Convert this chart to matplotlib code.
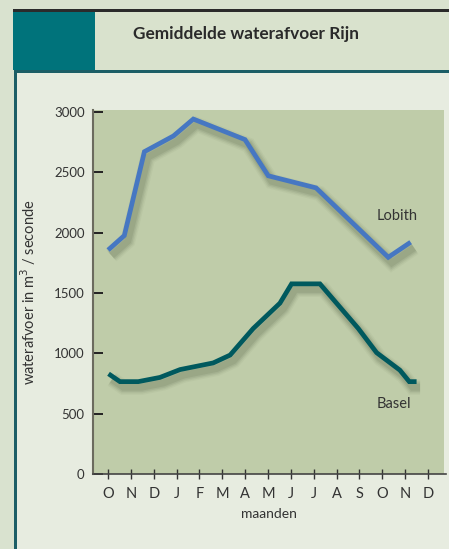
import matplotlib.pyplot as plt
import matplotlib.patheffects as pe
from matplotlib.patches import Rectangle

# month labels along the x axis (October .. December of next year)
months = ["O", "N", "D", "J", "F", "M", "A", "M", "J", "J", "A", "S", "O", "N", "D"]

# Lobith: position in months (0 = October) and discharge in m3/s
lobith_x = [0.0, 0.71, 1.59, 2.86, 3.73, 5.99, 7.01, 9.10, 12.26, 13.24]
lobith_y = [1855, 1975, 2670, 2800, 2940, 2770, 2470, 2370, 1795, 1920]

# Basel
basel_x = [0.02, 0.52, 1.32, 2.27, 3.15, 4.6, 5.34, 6.35, 7.52, 8.03, 9.27,
           10.95, 11.75, 12.77, 13.18, 13.5]
basel_y = [830, 765, 765, 800, 865, 920, 985, 1205, 1415, 1575, 1575,
           1205, 1005, 860, 765, 765]

W, H = 449, 549
plt.rcParams['font.family'] = ['Lato', 'DejaVu Sans']

fig = plt.figure(figsize=(W / 100, H / 100), dpi=100)
fig.patch.set_facecolor('#d9e2cf')


def box(x0, y0, x1, y1, color, z=0):
    # rectangle in pixel coords (origin top-left)
    fig.patches.append(Rectangle((x0 / W, 1 - y1 / H), (x1 - x0) / W, (y1 - y0) / H,
                                 transform=fig.transFigure, facecolor=color,
                                 edgecolor='none', zorder=z))


box(13, 10, W, 70, '#d9e2cd')        # title band
box(13, 11, 95, 70, '#00737b')       # teal block
box(13, 9, W, 12, '#2b2b2b', 2)      # top rule
box(14, 70, W, H, '#e7ece0')         # inner panel
box(14, 70, W, 73, '#1c5e66', 2)     # rule under title
box(14, 70, 16.5, H, '#1c5e66', 2)   # left border of panel

fig.text(133 / W, 1 - 34.5 / H, "Gemiddelde waterafvoer Rijn", fontsize=12.4,
         fontweight='bold', color='#2a2a2a', va='center', ha='left')

ax = fig.add_axes([93 / W, 1 - 474 / H, (444 - 93) / W, (474 - 110) / H])
ax.set_zorder(10)
ax.set_facecolor('#bfcca9')
ax.set_xlim(-0.66, 14.7)
ax.set_ylim(0, 3015)


def shadow_fx():
    fx = []
    for lw, a in [(11, 0.04), (9, 0.06), (7, 0.08), (5, 0.09)]:
        fx.append(pe.SimpleLineShadow(offset=(2.5, -4), shadow_color='#2f3d22',
                                      alpha=a, linewidth=lw))
    fx.append(pe.Normal())
    return fx


ax.plot(lobith_x, lobith_y, color='#4677c2', lw=3.4, solid_joinstyle='miter',
        solid_capstyle='butt', path_effects=shadow_fx(), zorder=3)
ax.plot(basel_x, basel_y, color='#00595e', lw=3.4, solid_joinstyle='miter',
        solid_capstyle='butt', path_effects=shadow_fx(), zorder=3)

ax.text(11.77, 2133, "Lobith", fontsize=10.5, color='#333333', va='center', ha='left')
ax.text(11.77, 583, "Basel", fontsize=10.5, color='#333333', va='center', ha='left')

ax.set_xticks(range(len(months)))
ax.set_xticklabels(months)
ax.set_yticks([0, 500, 1000, 1500, 2000, 2500, 3000])
ax.tick_params(axis='y', direction='in', length=7, width=1.4, color='#222222',
               labelsize=9.5, pad=6, labelcolor='#333333')
ax.tick_params(axis='x', direction='inout', length=7, width=1, color='#333333',
               labelsize=10.5, pad=6, labelcolor='#333333')

for s in ['top', 'right']:
    ax.spines[s].set_visible(False)
ax.spines['left'].set_color('#6b6b5e')
ax.spines['left'].set_linewidth(1.5)
ax.spines['bottom'].set_color('#444444')
ax.spines['bottom'].set_linewidth(1.2)
ax.spines['bottom'].set_bounds(-0.66, 14.8)

ax.set_xlabel("maanden", fontsize=10, color='#333333')
ax.xaxis.set_label_coords(0.5, -0.094)
ax.set_ylabel("waterafvoer in m$^3$ / seconde", fontsize=10.5, color='#333333')
ax.yaxis.set_label_coords(-0.157, 0.5)

fig.savefig("out.png", dpi=100, facecolor=fig.get_facecolor())
